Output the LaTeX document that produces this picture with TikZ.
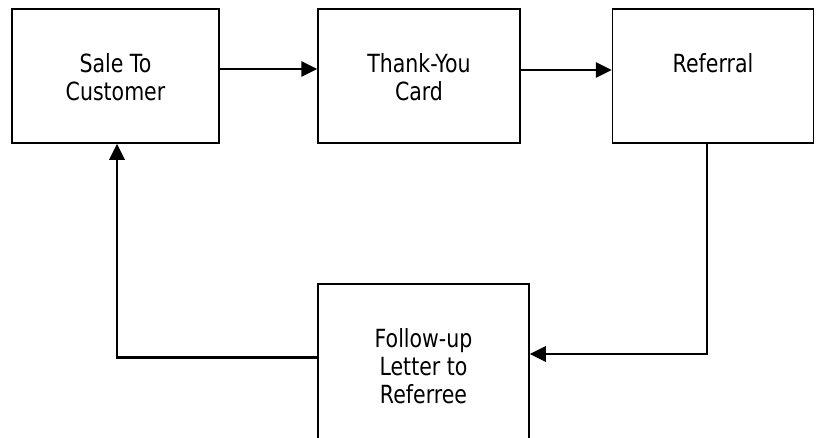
\documentclass[tikz,border=0pt]{standalone}
\usepackage{fontspec}
\setmainfont{DejaVu Sans}[FakeStretch=0.82]
\usetikzlibrary{arrows.meta}
\tikzset{
  stagebox/.style={draw=black, line width=1.5pt, rectangle, inner sep=0pt},
  stagetext/.style={anchor=north, align=center, inner sep=0pt,
    font=\fontsize{25}{28}\selectfont},
  conn/.style={draw=black, line width=2.7pt,
    -{Triangle[length=16pt, width=15pt]}},
}
\begin{document}
\begin{tikzpicture}[x=1pt, y=-1pt]
  \clip (0,0) rectangle (819,437);
  \fill[white] (0,0) rectangle (819,437);

  % stages of the referral cycle
  \node[stagebox, minimum width=207pt, minimum height=134pt] (sale)     at (115.5,76) {};
  \node[stagebox, minimum width=202pt, minimum height=134pt] (thanks)   at (419,76)   {};
  \node[stagebox, minimum width=201pt, minimum height=134pt] (referral) at (713,76)   {};
  \node[stagebox, minimum width=211pt, minimum height=166pt] (letter)   at (423.5,367) {};

  % box captions, hung from the top edge
  \node[stagetext] (saletxt)     at ([yshift=-45pt]sale.north)     {Sale To\\Customer};
  \node[stagetext] (thankstxt)   at ([yshift=-45pt]thanks.north)   {Thank-You\\Card};
  \node[stagetext] (referraltxt) at ([yshift=-45pt]referral.north) {Referral};
  \node[stagetext] (lettertxt)   at ([yshift=-45pt]letter.north)   {Follow-up\\Letter to\\Referree};

  % flow between the stages
  \draw[conn] ([yshift=7pt]sale.east) -- ([yshift=7pt]thanks.west);
  \draw[conn] ([yshift=6pt]thanks.east) -- ([yshift=6pt]referral.west);
  \draw[conn] ([xshift=-6pt]referral.south) |- ([yshift=13pt]letter.east);
  \draw[conn] ([yshift=9.5pt]letter.west) -| ([xshift=1.5pt]sale.south);
\end{tikzpicture}
\end{document}
